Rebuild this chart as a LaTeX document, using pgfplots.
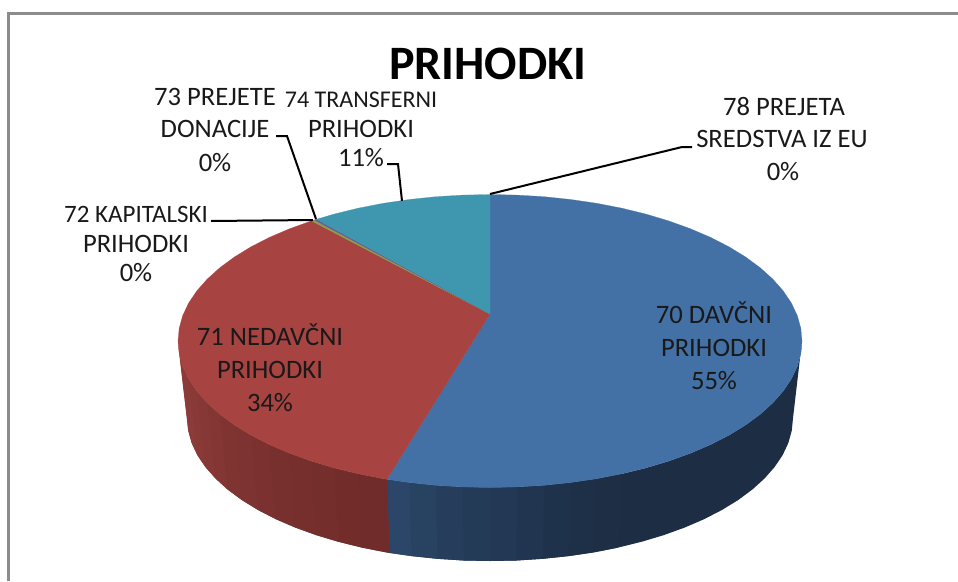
\documentclass[border=0pt]{standalone}
\usepackage{fontspec}
\setmainfont{Carlito}
\usepackage{pgfplots}
\pgfplotsset{compat=1.18}
\definecolor{blueT}{RGB}{68,113,165}
\definecolor{redT}{RGB}{167,68,66}
\definecolor{tealT}{RGB}{63,150,175}
\definecolor{greenT}{RGB}{132,160,72}
\definecolor{purpT}{RGB}{110,85,150}
\definecolor{frameC}{RGB}{140,140,140}
\definecolor{txt}{RGB}{25,25,25}
\pgfplotsset{
  strip/.style args={#1,#2,#3}{fill={rgb,255:red,#1;green,#2;blue,#3},draw=none,forget plot},
  face/.style={fill=#1,draw=#1,line width=0.2pt,forget plot},
  lead/.style={black,line width=2pt,line join=miter,forget plot}
}
\newcommand{\lab}[3]{\node[anchor=base,inner sep=0pt,text=txt,font=\fontsize{26.6}{26.6}\selectfont] at (axis cs:#1,#2) {#3};}
\newcommand{\labs}[4]{\node[anchor=base,inner sep=0pt,text=txt,font=\fontsize{#4}{#4}\selectfont] at (axis cs:#1,#2) {#3};}
\begin{document}
\begin{tikzpicture}
\useasboundingbox (0,0) rectangle (958pt,581pt);
\begin{axis}[
  scale only axis, width=958pt, height=581pt,
  xmin=0, xmax=958, ymin=0, ymax=581, y dir=reverse,
  hide axis, clip=true, anchor=south west, at={(0,0)}
]
% frame
\addplot[frameC,line width=3pt,forget plot] coordinates {(8.5,581)(8.5,13.5)(958,13.5)};
% side strips: blue
\addplot[strip={28,45,68}] coordinates {(802,341)(800.8,353.8)(797.3,366.4)(791.4,378.9)(783.2,391.1)(772.8,402.9)(760.2,414.3)(745.6,425)(729,435.2)(710.6,444.6)(690.6,453.2)(669,461)(646,467.9)(621.9,473.8)(596.7,478.7)(593.6,552.4)(618,547.6)(641.5,541.8)(663.8,535.1)(684.8,527.5)(704.3,519.1)(722.1,509.9)(738.2,500)(752.4,489.5)(764.6,478.4)(774.7,466.9)(782.7,455)(788.4,442.8)(791.8,430.5)(793,418)};
\addplot[strip={29,46,69}] coordinates {(621.9,473.8)(596.7,478.7)(570.8,482.5)(568.4,556.1)(593.6,552.4)(618,547.6)};
\addplot[strip={30,48,72}] coordinates {(596.7,478.7)(570.8,482.5)(544.2,485.3)(542.6,558.8)(568.4,556.1)(593.6,552.4)};
\addplot[strip={31,50,75}] coordinates {(570.8,482.5)(544.2,485.3)(517.2,486.9)(516.4,560.5)(542.6,558.8)(568.4,556.1)};
\addplot[strip={33,53,80}] coordinates {(544.2,485.3)(517.2,486.9)(490,487.5)(490,561)(516.4,560.5)(542.6,558.8)};
\addplot[strip={34,56,84}] coordinates {(517.2,486.9)(490,487.5)(462.8,486.9)(463.6,560.5)(490,561)(516.4,560.5)};
\addplot[strip={36,59,88}] coordinates {(490,487.5)(462.8,486.9)(435.8,485.3)(437.4,558.8)(463.6,560.5)(490,561)};
\addplot[strip={38,62,92}] coordinates {(462.8,486.9)(435.8,485.3)(409.2,482.5)(411.6,556.1)(437.4,558.8)(463.6,560.5)};
\addplot[strip={40,66,98}] coordinates {(435.8,485.3)(409.2,482.5)(386.9,479.3)(389.9,553)(411.6,556.1)(437.4,558.8)};
\addplot[strip={43,70,104}] coordinates {(409.2,482.5)(386.9,479.3)(383.3,478.7)(386.4,552.4)(389.9,553)(411.6,556.1)};
% side strips: red
\addplot[strip={143,61,59}] coordinates {(178,341)(179.2,353.8)(182.7,366.4)(191.6,442.8)(188.2,430.5)(187,418)};
\addplot[strip={141,60,58}] coordinates {(179.2,353.8)(182.7,366.4)(188.6,378.9)(197.3,455)(191.6,442.8)(188.2,430.5)};
\addplot[strip={139,59,57}] coordinates {(182.7,366.4)(188.6,378.9)(196.8,391.1)(205.3,466.9)(197.3,455)(191.6,442.8)};
\addplot[strip={137,58,55}] coordinates {(188.6,378.9)(196.8,391.1)(207.2,402.9)(215.4,478.4)(205.3,466.9)(197.3,455)};
\addplot[strip={134,56,54}] coordinates {(196.8,391.1)(207.2,402.9)(219.8,414.3)(227.6,489.5)(215.4,478.4)(205.3,466.9)};
\addplot[strip={131,54,52}] coordinates {(207.2,402.9)(219.8,414.3)(234.4,425)(241.8,500)(227.6,489.5)(215.4,478.4)};
\addplot[strip={128,52,50}] coordinates {(219.8,414.3)(234.4,425)(251,435.2)(257.9,509.9)(241.8,500)(227.6,489.5)};
\addplot[strip={125,51,49}] coordinates {(234.4,425)(251,435.2)(269.4,444.6)(275.7,519.1)(257.9,509.9)(241.8,500)};
\addplot[strip={122,49,47}] coordinates {(251,435.2)(269.4,444.6)(289.4,453.2)(295.2,527.5)(275.7,519.1)(257.9,509.9)};
\addplot[strip={120,48,46}] coordinates {(269.4,444.6)(289.4,453.2)(311,461)(316.2,535.1)(295.2,527.5)(275.7,519.1)};
\addplot[strip={118,47,45}] coordinates {(289.4,453.2)(311,461)(334,467.9)(338.5,541.8)(316.2,535.1)(295.2,527.5)};
\addplot[strip={116,46,44}] coordinates {(311,461)(334,467.9)(358.1,473.8)(362,547.6)(338.5,541.8)(316.2,535.1)};
\addplot[strip={114,45,43}] coordinates {(334,467.9)(358.1,473.8)(383.3,478.7)(386.4,552.4)(362,547.6)(338.5,541.8)};
\addplot[strip={112,44,42}] coordinates {(358.1,473.8)(383.3,478.7)(386.9,479.3)(389.9,553)(386.4,552.4)(362,547.6)};
% top face
\addplot[face=blueT] coordinates {(490,314)(490,194.5)(517.2,195.1)(544.2,196.7)(570.8,199.5)(596.7,203.3)(621.9,208.2)(646,214.1)(669,221)(690.6,228.8)(710.6,237.4)(729,246.8)(745.6,257)(760.2,267.75)(772.8,279.1)(783.2,290.9)(791.4,303.1)(797.3,315.6)(800.8,328.2)(802,341)(800.8,353.8)(797.3,366.4)(791.4,378.9)(783.2,391.1)(772.8,402.9)(760.2,414.3)(745.6,425)(729,435.2)(710.6,444.6)(690.6,453.2)(669,461)(646,467.9)(621.9,473.8)(596.7,478.7)(570.8,482.5)(544.2,485.3)(517.2,486.9)(490,487.5)(462.8,486.9)(435.8,485.3)(409.2,482.5)(386.9,479.3)(490,314)};
\addplot[face=redT] coordinates {(490,314)(386.9,479.3)(383.3,478.7)(358.1,473.8)(334,467.9)(311,461)(289.4,453.2)(269.4,444.6)(251,435.2)(234.4,425)(219.8,414.3)(207.2,402.9)(196.8,391.1)(188.6,378.9)(182.7,366.4)(179.2,353.8)(178,341)(179.2,328.2)(182.7,315.6)(188.6,303.1)(196.8,290.9)(207.2,279.1)(219.8,267.75)(234.4,257)(251,246.8)(269.4,237.4)(289.4,228.8)(311.5,220.9)(490,314)};
\addplot[face=greenT] coordinates {(490,314)(311.5,220.9)(314.5,220)(490,314)};
\addplot[face=purpT] coordinates {(490,314)(314.5,220)(316.5,219.3)(490,314)};
\addplot[face=tealT] coordinates {(490,314)(316.5,219.3)(334,214.1)(358.1,208.2)(383.3,203.3)(409.2,199.5)(435.8,196.7)(462.8,195.1)(490,194.5)(490,314)};
% leaders
\addplot[lead] coordinates {(276,136)(287,136)(316,219)};
\addplot[lead] coordinates {(387,164)(398,164)(402,201)};
\addplot[lead] coordinates {(211,221)(313,220)};
\addplot[lead] coordinates {(490,194)(682,147)(692,147)};
% text
\node[anchor=base,inner sep=0pt,text=black,font=\fontsize{48}{48}\bfseries] at (axis cs:488,79.5) {PRIHODKI};
\lab{215}{105}{73 PREJETE}
\lab{215}{137}{DONACIJE}
\lab{215}{171}{0\%}
\labs{361}{107}{74 TRANSFERNI}{24}
\lab{361}{137}{PRIHODKI}
\lab{361}{166}{11\%}
\labs{136}{222}{72 KAPITALSKI}{25}
\lab{136}{252}{PRIHODKI}
\lab{136}{281}{0\%}
\lab{784}{115}{78 PREJETA}
\lab{782}{147}{SREDSTVA IZ EU}
\lab{783}{180}{0\%}
\lab{714}{323}{70 DAVČNI}
\lab{714}{356}{PRIHODKI}
\lab{714}{389}{55\%}
\lab{270}{345}{71 NEDAVČNI}
\lab{270}{378}{PRIHODKI}
\lab{270}{411}{34\%}
\end{axis}
\end{tikzpicture}
\end{document}
